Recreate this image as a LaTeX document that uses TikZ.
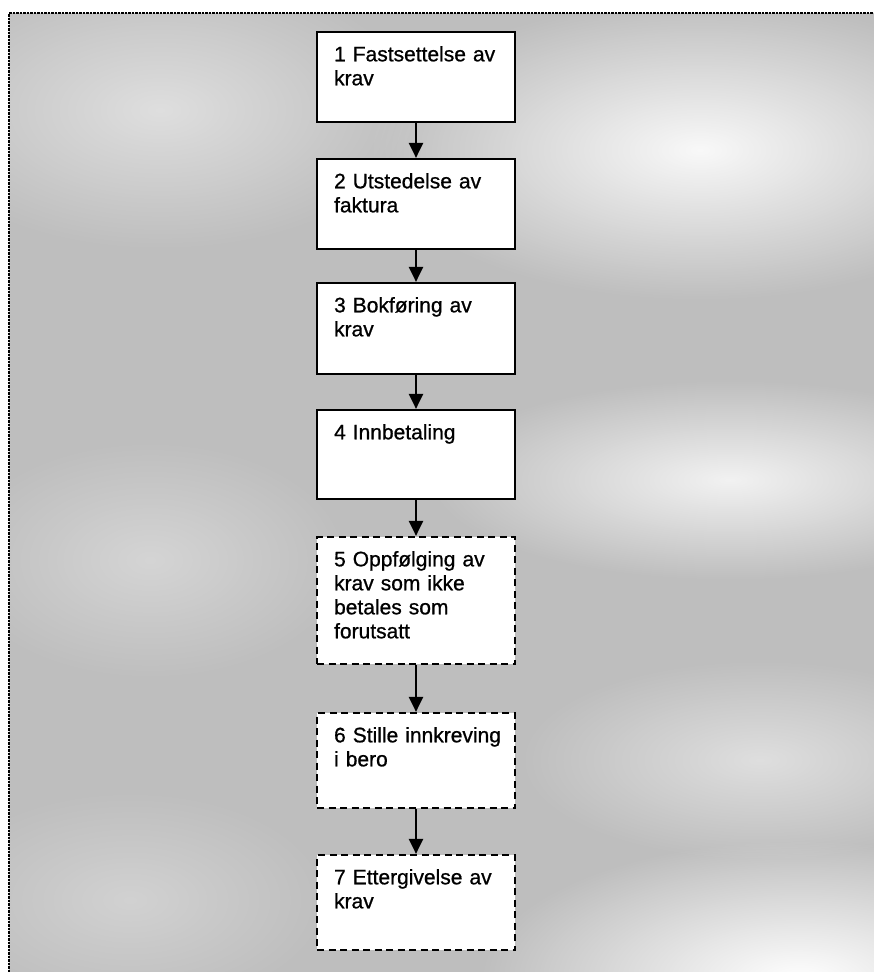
\documentclass[tikz,border=0pt]{standalone}
\usepackage{fontspec}
\setmainfont{Liberation Sans}[FakeBold=0.6]
\newfontfamily\boxfont{Liberation Sans}[FakeBold=0.8]
\usetikzlibrary{arrows.meta,calc,fadings}
\definecolor{bg}{RGB}{190,190,190}
\tikzfading[name=softglow, inner color=transparent!0, outer color=transparent!100]
\tikzset{
  stepbox/.style={draw=black, line width=2.2pt, fill=white, minimum width=198pt, inner sep=0pt},
  dashbox/.style={stepbox, dash pattern=on 7pt off 4.5pt},
  lbl/.style={anchor=north west, inner sep=0pt, align=left, text width=170pt,
    font=\boxfont\fontsize{21pt}{24pt}\selectfont},
  flow/.style={line width=2.2pt, -{Triangle[width=14pt,length=15pt]}},
  glow/.style={fill=white, path fading=softglow}
}
\begin{document}
\begin{tikzpicture}[x=1pt,y=-1pt]
\useasboundingbox (0,0) rectangle (874,972);
% background
\fill[bg] (9,13) rectangle (874,972);
\fill[glow, opacity=0.9] (700,150) ellipse [x radius=330, y radius=150];
\fill[glow, opacity=0.5] (160,110) ellipse [x radius=260, y radius=140];
\fill[glow, opacity=0.8] (730,480) ellipse [x radius=300, y radius=100];
\fill[glow, opacity=0.5] (760,760) ellipse [x radius=240, y radius=100];
\fill[glow, opacity=1] (800,980) ellipse [x radius=320, y radius=140];
\fill[glow, opacity=0.35] (150,560) ellipse [x radius=200, y radius=120];
\fill[glow, opacity=0.3] (130,900) ellipse [x radius=200, y radius=110];
\draw[black, line width=2.5pt, densely dotted] (9,972) -- (9,13) -- (874,13);
% boxes
\node[stepbox, minimum height=90pt] (b1) at (416,77) {};
\node[stepbox, minimum height=90pt] (b2) at (416,204) {};
\node[stepbox, minimum height=91pt] (b3) at (416,328.5) {};
\node[stepbox, minimum height=89pt] (b4) at (416,454.5) {};
\node[dashbox, minimum height=127pt] (b5) at (416,600.5) {};
\node[dashbox, minimum height=95pt] (b6) at (416,760.5) {};
\node[dashbox, minimum height=95pt] (b7) at (416,902.5) {};
% labels
\node[lbl] (t1) at ($(b1.north west)+(18,15)$) {1 Fastsettelse av\\krav};
\node[lbl] (t2) at ($(b2.north west)+(18,15)$) {2 Utstedelse av\\faktura};
\node[lbl] (t3) at ($(b3.north west)+(18,15)$) {3 Bokføring av\\krav};
\node[lbl] (t4) at ($(b4.north west)+(18,15)$) {4 Innbetaling};
\node[lbl] (t5) at ($(b5.north west)+(18,15)$) {5 Oppfølging av\\krav som ikke\\betales som\\forutsatt};
\node[lbl] (t6) at ($(b6.north west)+(18,15)$) {6 Stille innkreving\\i bero};
\node[lbl] (t7) at ($(b7.north west)+(18,15)$) {7 Ettergivelse av\\krav};
% arrows
\draw[flow] (b1.south) -- (b2.north);
\draw[flow] (b2.south) -- (b3.north);
\draw[flow] (b3.south) -- (b4.north);
\draw[flow] (b4.south) -- (b5.north);
\draw[flow] (b5.south) -- (b6.north);
\draw[flow] (b6.south) -- (b7.north);
\end{tikzpicture}
\end{document}
